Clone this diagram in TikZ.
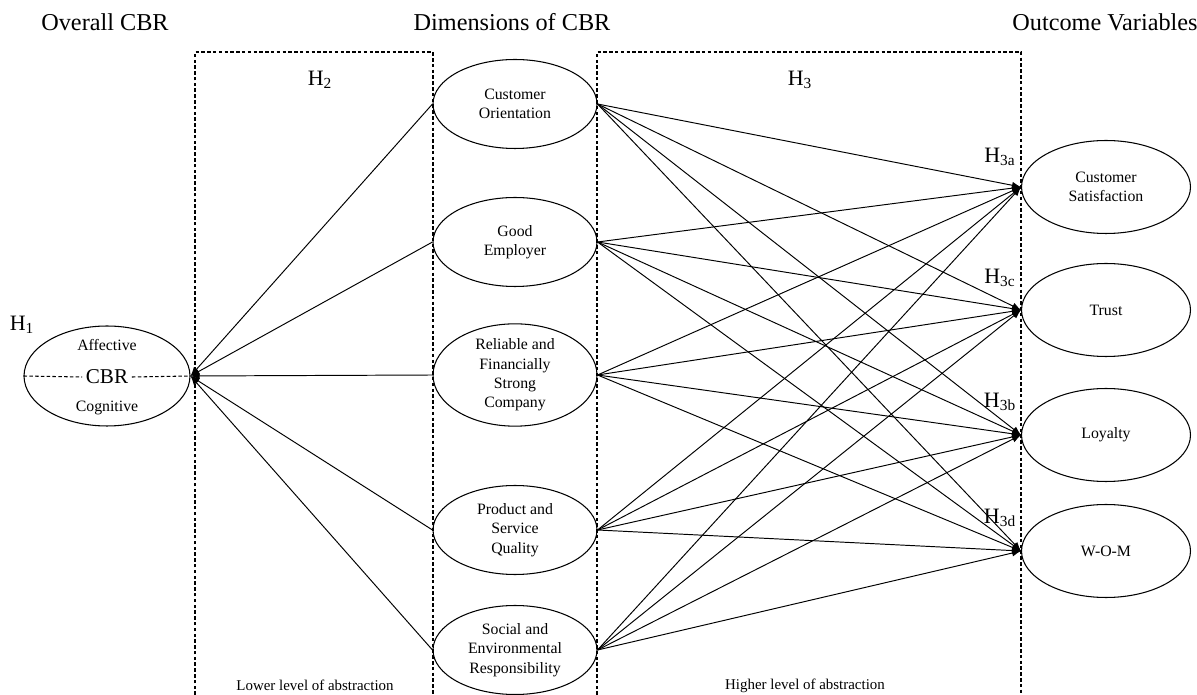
\documentclass[tikz,border=0pt]{standalone}
\usepackage{fontspec}
\setmainfont{Liberation Serif}
\usetikzlibrary{shapes.geometric, arrows.meta, positioning, calc}

\begin{document}
\begin{tikzpicture}[
    x=0.02cm, y=-0.02cm,
    dim/.style={ellipse, draw, line width=0.6pt, minimum width=3.28cm, minimum height=1.78cm, inner sep=0pt, align=center, font=\fontsize{9}{11}\selectfont},
    outc/.style={ellipse, draw, line width=0.6pt, minimum width=3.38cm, minimum height=1.86cm, inner sep=0pt, align=center, font=\fontsize{9}{11}\selectfont},
    head/.style={font=\fontsize{13.8}{16}\selectfont},
    hyp/.style={font=\fontsize{12.5}{14}\selectfont},
    note/.style={font=\fontsize{8.5}{10}\selectfont},
    frame/.style={dash pattern=on 2pt off 1.3pt, line width=0.6pt},
    arrow/.style={-{Latex[length=1.8mm, width=1.4mm]}, line width=0.55pt}
]
\useasboundingbox (0,0) rectangle (1197,695);

% titres
\node[head] (tov) at (105,22) {Overall CBR};
\node[head] (tdim) at (512,22) {Dimensions of CBR};
\node[head] (tout) at (1105,22) {Outcome Variables};

% cadres en pointilles
\draw[frame] (195,695) -- (195,52) -- (433,52) -- (433,695);
\draw[frame] (597,695) -- (597,52) -- (1021,52) -- (1021,695);

\node[hyp] (h2) at (320,80) {H\textsubscript{2}};
\node[hyp] (h3) at (800,80) {H\textsubscript{3}};
\node[note] (low) at (315,685) {Lower level of abstraction};
\node[note] (high) at (805,686) {Higher level of abstraction};

% CBR global
\node[ellipse, draw, line width=0.6pt, minimum width=3.32cm, minimum height=2cm, inner sep=0pt] (cbr) at (107,376) {};
\node[font=\fontsize{9}{11}\selectfont] (aff) at (107,345) {Affective};
\node[font=\fontsize{9}{11}\selectfont] (cog) at (107,408) {Cognitive};
\node[font=\fontsize{12}{14}\selectfont, inner sep=2pt] (cbrt) at (107,377) {CBR};
\draw[frame] (cbr.west) -- (cbrt.west);
\draw[frame] (cbrt.east) -- (cbr.east);
\node[hyp] (h1) at (22,325) {H\textsubscript{1}};

% dimensions
\node[dim] (co) at (515,104) {Customer\\Orientation};
\node[dim] (ge) at (515,242) {Good\\Employer};
\node[dim] (rf) at (515,375) {Reliable and\\Financially\\Strong\\Company};
\node[dim] (ps) at (515,530) {Product and\\Service\\Quality};
\node[dim] (se) at (515,650) {Social and\\Environmental\\Responsibility};

% variables de resultat
\node[outc] (cs) at (1106,187) {Customer\\Satisfaction};
\node[outc] (tr) at (1106,310) {Trust};
\node[outc] (lo) at (1106,435) {Loyalty};
\node[outc] (wom) at (1106,551) {W-O-M};

\node[hyp] (h3a) at (1000,157) {H\textsubscript{3a}};
\node[hyp] (h3c) at (1000,278) {H\textsubscript{3c}};
\node[hyp] (h3b) at (1000,402) {H\textsubscript{3b}};
\node[hyp] (h3d) at (1000,518) {H\textsubscript{3d}};

% fleches
\foreach \d in {co,ge,rf,ps,se} {
    \draw[arrow] (\d.west) -- (cbr.east);
    \foreach \o in {cs,tr,lo,wom}
        \draw[arrow] (\d.east) -- (\o.west);
}

\end{tikzpicture}
\end{document}
